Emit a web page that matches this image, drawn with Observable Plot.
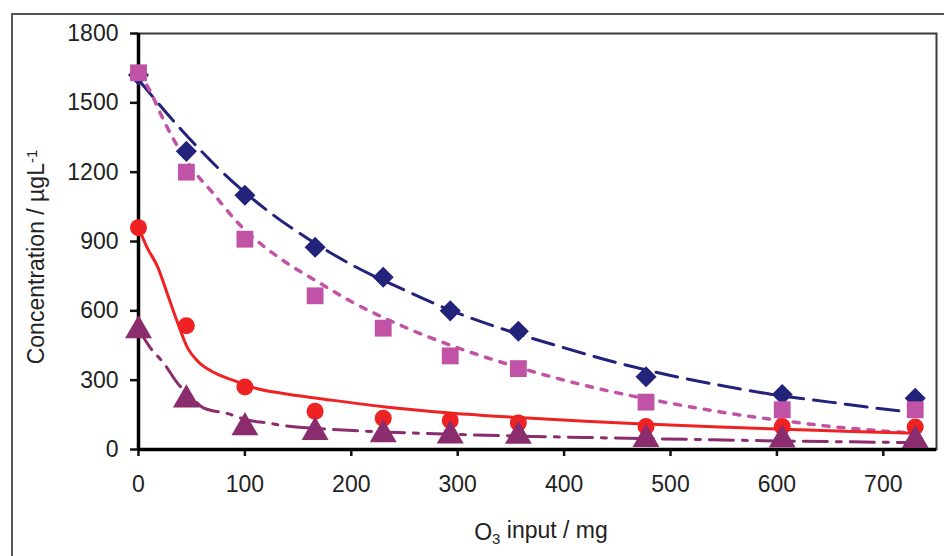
<!DOCTYPE html>
<html>
<head>
<meta charset="utf-8">
<script src="https://cdn.jsdelivr.net/npm/d3@7"></script>
<script src="https://cdn.jsdelivr.net/npm/@observablehq/plot@0.6"></script>
<style>
  html, body { margin: 0; padding: 0; background: #fff; }
  #chart { width: 944px; height: 556px; overflow: hidden; }
</style>
</head>
<body>
<div id="chart"></div>
<script>
// Ozone input (mg) at which each sample was measured
const ozoneInput = [0, 45, 100, 166, 230, 293, 357, 477, 605, 730];

// Measured concentrations (µg/L), one array per compound
const diamondSeries  = [1620, 1290, 1100, 875, 745, 600, 512, 315, 238, 222];
const squareSeries   = [1630, 1200, 910, 665, 525, 405, 350, 205, 172, 172];
const circleSeries   = [960, 535, 270, 165, 135, 125, 115, 100, 100, 97];
const triangleSeries = [515, 215, 95, 75, 65, 60, 58, 45, 42, 40];

// Fitted decay curves
const fitDiamondX = [0, 40, 80, 125, 160, 200, 250, 300, 350, 400, 450, 500, 550, 600, 650, 700, 730];
const fitDiamondY = [1600, 1385, 1195, 1020, 910, 800, 690, 590, 510, 440, 375, 320, 275, 235, 205, 175, 160];

const fitSquareX = [0, 13, 20, 32, 54, 68, 94, 140, 165, 200, 250, 300, 350, 400, 450, 500, 550, 600, 650, 700, 730];
const fitSquareY = [1630, 1532, 1460, 1350, 1194, 1120, 978, 805, 735, 640, 530, 440, 365, 300, 245, 200, 160, 128, 100, 80, 70];

const fitCircleX = [0, 8, 18, 27, 36, 46, 55, 71, 90, 110, 136, 171, 230, 293, 357, 420, 477, 540, 605, 670, 730];
const fitCircleY = [960, 875, 790, 675, 558, 441, 385, 333, 298, 265, 242, 220, 185, 158, 138, 122, 110, 98, 88, 78, 70];

const fitTriangleX = [0, 11, 24, 37, 50, 61, 84, 102, 121, 136, 168, 230, 293, 357, 420, 477, 540, 605, 670, 730];
const fitTriangleY = [520, 441, 372, 285, 225, 180, 155, 128, 115, 104, 91, 76, 66, 58, 52, 47, 42, 37, 33, 30];

const xTicks = [0, 100, 200, 300, 400, 500, 600, 700];
const yTicks = [0, 300, 600, 900, 1200, 1500, 1800];

const navy = "#23237c";
const pink = "#c153a7";
const red = "#ee2222";
const plum = "#8b2c6e";

const pts = (ys) => ozoneInput.map((x, i) => ({x, y: ys[i]}));
const curve = (xs, ys) => xs.map((x, i) => ({x, y: ys[i]}));

const plot = Plot.plot({
  width: 944,
  height: 556,
  marginLeft: 138,
  marginTop: 33,
  marginRight: 8,
  marginBottom: 107,
  style: {fontFamily: "'Liberation Sans', Arial, sans-serif", fontSize: "23px", color: "#222", background: "#fff"},
  x: {domain: [0, 750]},
  y: {domain: [0, 1800]},
  marks: [
    Plot.frame({stroke: "#3a3a3a", strokeWidth: 2}),
    Plot.axisX({ticks: xTicks, tickSize: 7, tickPadding: 19, tickFormat: d => String(d), label: null, strokeWidth: 2.5, stroke: "#111"}),
    Plot.axisY({ticks: yTicks, tickSize: 8, tickPadding: 12, tickFormat: d => String(d), label: null, strokeWidth: 2.5, stroke: "#111"}),
    Plot.ruleX([0], {stroke: "#000", strokeWidth: 3.5}),
    Plot.ruleY([0], {stroke: "#000", strokeWidth: 3.5}),

    Plot.line(curve(fitDiamondX, fitDiamondY), {x: "x", y: "y", stroke: navy, strokeWidth: 3, strokeDasharray: "22,10", curve: "monotone-x"}),
    Plot.line(curve(fitSquareX, fitSquareY), {x: "x", y: "y", stroke: pink, strokeWidth: 3.5, strokeDasharray: "6,9", curve: "monotone-x"}),
    Plot.line(curve(fitCircleX, fitCircleY), {x: "x", y: "y", stroke: red, strokeWidth: 3, curve: "monotone-x"}),
    Plot.line(curve(fitTriangleX, fitTriangleY), {x: "x", y: "y", stroke: plum, strokeWidth: 3, strokeDasharray: "24,9,5,9", curve: "monotone-x"}),

    Plot.dot(pts(diamondSeries), {x: "x", y: "y", symbol: "diamond2", r: 9.5, fill: navy, stroke: "none"}),
    Plot.dot(pts(squareSeries), {x: "x", y: "y", symbol: "square", r: 9.5, fill: pink, stroke: "none"}),
    Plot.dot(pts(circleSeries), {x: "x", y: "y", symbol: "circle", r: 8.5, fill: red, stroke: "none"}),
    Plot.dot(pts(triangleSeries), {x: "x", y: "y", symbol: "triangle", r: 10, fill: plum, stroke: "none"})
  ]
});

document.getElementById("chart").appendChild(plot);

const svg = d3.select(plot);

// Outer figure border
svg.insert("rect", ":first-child")
  .attr("x", 12).attr("y", 14)
  .attr("width", 1000).attr("height", 700)
  .attr("fill", "none")
  .attr("stroke", "#555")
  .attr("stroke-width", 2);

// Axis titles
const xt = svg.append("text")
  .attr("x", 541).attr("y", 540)
  .attr("text-anchor", "middle")
  .attr("fill", "#222")
  .style("font-size", "23px");
xt.append("tspan").text("O");
xt.append("tspan").attr("dy", "0.25em").style("font-size", "15px").text("3");
xt.append("tspan").attr("dy", "-0.25em").text(" input / mg");

const yt = svg.append("text")
  .attr("transform", "translate(44,257) rotate(-90)")
  .attr("text-anchor", "middle")
  .attr("fill", "#222")
  .style("font-size", "23px");
yt.append("tspan").text("Concentration / \u00b5gL");
yt.append("tspan").attr("dy", "-0.45em").style("font-size", "15px").text("-1");
</script>
</body>
</html>
